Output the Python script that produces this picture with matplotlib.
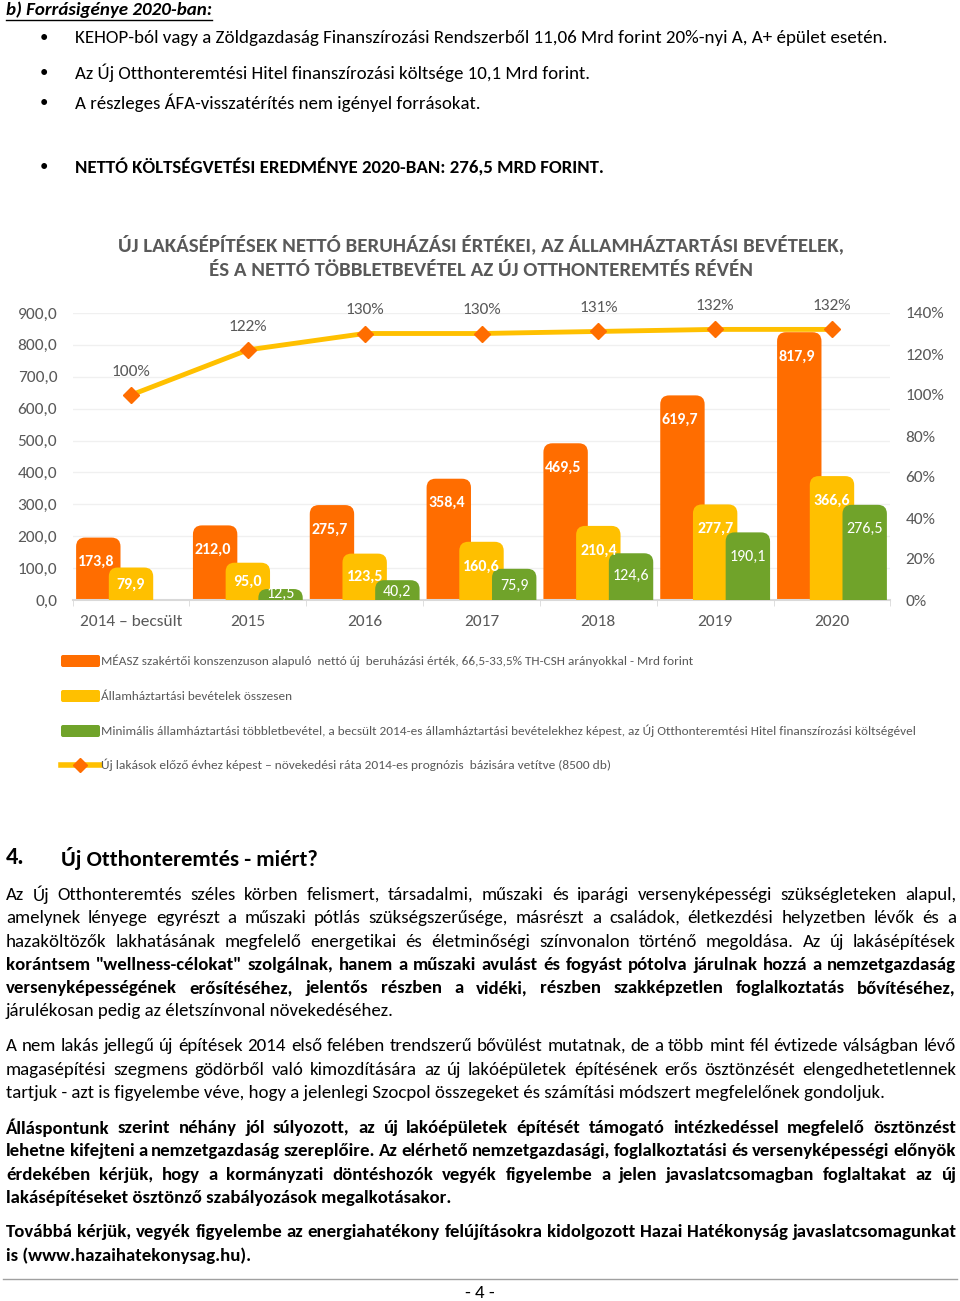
import matplotlib
matplotlib.use('Agg')
import matplotlib.pyplot as plt
import matplotlib.font_manager as fm
from matplotlib.patches import FancyBboxPatch
from matplotlib.lines import Line2D
from matplotlib.ticker import FuncFormatter, MultipleLocator

installed = {f.name for f in fm.fontManager.ttflist}
prefer = ['Carlito', 'Source Sans 3', 'Source Sans Pro', 'PT Sans', 'Open Sans']
font = [f for f in prefer if f in installed][0]
plt.rcParams['font.family'] = [font, 'DejaVu Sans']

# adatok
evek = ['2014 – becsült', '2015', '2016', '2017', '2018', '2019', '2020']
beruhazas = [173.8, 212.0, 275.7, 358.4, 469.5, 619.7, 817.9]
bevetel = [79.9, 95.0, 123.5, 160.6, 210.4, 277.7, 366.6]
tobblet = [None, 12.5, 40.2, 75.9, 124.6, 190.1, 276.5]
rata = [100, 122, 130, 130, 131, 132, 132]

sorozatok = [
    'MÉASZ szakértői konszenzuson alapuló  nettó új  beruházási érték, 66,5-33,5% TH-CSH arányokkal - Mrd forint',
    'Államháztartási bevételek összesen',
    'Minimális államháztartási többletbevétel, a becsült 2014-es államháztartási bevételekhez képest, az Új Otthonteremtési Hitel finanszírozási költségével',
    'Új lakások előző évhez képest – növekedési ráta 2014-es prognózis  bázisára vetítve (8500 db)',
]
cim = ['ÚJ LAKÁSÉPÍTÉSEK NETTÓ BERUHÁZÁSI ÉRTÉKEI, AZ ÁLLAMHÁZTARTÁSI BEVÉTELEK,',
       'ÉS A NETTÓ TÖBBLETBEVÉTEL AZ ÚJ OTTHONTEREMTÉS RÉVÉN']

ORANGE = '#FF6D00'
YELLOW = '#FFC000'
GREEN = '#70A32A'
GRAY = '#595959'

W, H = 960, 1301
fig = plt.figure(figsize=(9.6, 13.01), dpi=100)
bg = fig.add_axes([0, 0, 1, 1])
bg.set_xlim(0, W)
bg.set_ylim(H, 0)
bg.axis('off')
r = fig.canvas.get_renderer()


def width(t):
    return t.get_window_extent(r).width


def fit(t, w):
    t.set_fontsize(t.get_fontsize() * w / width(t))
    return t


def line(y, s, size, weight='normal', justify=True, x0=6, x1=956, **kw):
    if not justify:
        return bg.text(x0, y, s, fontsize=size, fontweight=weight, va='center', **kw)
    words = s.split(' ')
    arts = [bg.text(0, y, w, fontsize=size, fontweight=weight, va='center', **kw) for w in words]
    ws = [width(a) for a in arts]
    gap = (x1 - x0 - sum(ws)) / (len(words) - 1)
    x = x0
    for a, w in zip(arts, ws):
        a.set_x(x)
        x += w + gap


# --- top of the page ---
fit(bg.text(6, 10, 'b) Forrásigénye 2020-ban:', fontsize=13, fontweight='bold',
            style='italic', va='center'), 206)
bg.plot([6, 212], [20, 20], color='black', lw=1)
bullets = [(38, 'KEHOP-ból vagy a Zöldgazdaság Finanszírozási Rendszerből 11,06 Mrd forint 20%-nyi A, A+ épület esetén.', 809, 'normal'),
           (73, 'Az Új Otthonteremtési Hitel finanszírozási költsége 10,1 Mrd forint.', 515, 'normal'),
           (103, 'A részleges ÁFA-visszatérítés nem igényel forrásokat.', 404, 'normal'),
           (167, 'NETTÓ KÖLTSÉGVETÉSI EREDMÉNYE 2020-BAN: 276,5 MRD FORINT.', 529, 'bold')]
for y, s, w, fw in bullets:
    bg.text(44, y, '•', fontsize=12, va='center', ha='center')
    fit(bg.text(75, y, s, fontsize=13, fontweight=fw, va='center'), w)

# --- chart ---
fit(bg.text(481, 244, cim[0], fontsize=14, fontweight='bold', color=GRAY, ha='center', va='center'), 730)
fit(bg.text(481, 270, cim[1], fontsize=14, fontweight='bold', color=GRAY, ha='center', va='center'), 546)

ax = fig.add_axes([72.6 / W, (H - 600) / H, (890.4 - 72.6) / W, 287 / H])
ax.set_xlim(-0.5, 6.5)
ax.set_ylim(0, 900)
ax.yaxis.set_major_locator(MultipleLocator(100))
ax.yaxis.set_major_formatter(FuncFormatter(lambda v, p: f'{v:.1f}'.replace('.', ',')))
ax.grid(axis='y', color='#F0F0F0', lw=1)
ax.set_axisbelow(True)
for s in ['top', 'left', 'right']:
    ax.spines[s].set_visible(False)
ax.spines['bottom'].set_color('#D9D9D9')
ax.spines['bottom'].set_linewidth(1.5)
ax.set_xticks(range(len(evek)))
ax.set_xticklabels(evek)
ax.set_xticks([i - 0.5 for i in range(len(evek) + 1)], minor=True)
ax.tick_params(axis='x', which='major', length=0, labelsize=12.5, labelcolor=GRAY, pad=11)
ax.tick_params(axis='x', which='minor', length=4, color='#D9D9D9')
ax.tick_params(axis='y', length=0, labelsize=12.5, labelcolor=GRAY, pad=11)

px_x = ax.get_position().width * W / 7
px_y = ax.get_position().height * H / 900
asp = px_x / px_y
bw, off = 0.38, 0.28
rad = 9 / px_x
cap = 7 / px_y  # rounded cap drawn above the value, as in the original


def rbar(xc, v, color, z):
    p = FancyBboxPatch((xc - bw / 2, -100), bw, v + 100 + cap,
                       boxstyle=f'round,pad=0,rounding_size={rad}',
                       mutation_aspect=asp, fc=color, ec='none', zorder=z)
    ax.add_patch(p)


def lab_y(v):
    return v - 55 if v > 150 else max(v * 0.6, 19)


def fmt(v):
    return f'{v:.1f}'.replace('.', ',')


for i in range(len(evek)):
    rbar(i - off, beruhazas[i], ORANGE, 2)
    ax.text(i - off - 0.02, lab_y(beruhazas[i]), fmt(beruhazas[i]), ha='center', va='center',
            color='white', fontweight='bold', fontsize=11.5, zorder=6)
    rbar(i, bevetel[i], YELLOW, 3)
    ax.text(i, lab_y(bevetel[i]), fmt(bevetel[i]), ha='center', va='center',
            color='white', fontweight='bold', fontsize=11.5, zorder=6)
    if tobblet[i] is not None:
        rbar(i + off, tobblet[i], GREEN, 4)
        ax.text(i + off, lab_y(tobblet[i]), fmt(tobblet[i]), ha='center', va='center',
                color='white', fontsize=11.5, zorder=6)

ax2 = ax.twinx()
ax2.set_ylim(0, 140)
ax2.set_yticks(range(0, 141, 20))
ax2.yaxis.set_major_formatter(FuncFormatter(lambda v, p: f'{v:.0f}%'))
ax2.tick_params(axis='y', length=0, labelsize=12.5, labelcolor=GRAY, pad=11)
for s in ax2.spines.values():
    s.set_visible(False)
ax2.plot(range(len(evek)), rata, color=YELLOW, lw=3.5, marker='D', ms=8,
         mfc=ORANGE, mec=ORANGE, zorder=5, solid_capstyle='round')
for i, v in enumerate(rata):
    ax2.annotate(f'{v}%', (i, v), xytext=(0, 23), textcoords='offset pixels',
                 ha='center', va='center', color=GRAY, fontsize=12.5)

# legend
leg_y = [661, 696, 731, 765]
leg_w = [596, 192, 819, 508]
for k, (y, s, w) in enumerate(zip(leg_y, sorozatok, leg_w)):
    if k < 3:
        c = [ORANGE, YELLOW, GREEN][k]
        bg.add_patch(FancyBboxPatch((61, y - 6), 39, 12, boxstyle='round,pad=0,rounding_size=2',
                                    fc=c, ec='none'))
    else:
        bg.add_line(Line2D([61, 100], [y, y], color=YELLOW, lw=4))
        bg.plot([80], [y], marker='D', ms=7, color=ORANGE)
    fit(bg.text(101, y, s, fontsize=10, color=GRAY, va='center'), w)

# --- section 4 ---
fit(bg.text(6, 858, '4.', fontsize=16, fontweight='bold', va='center'), 19)
fit(bg.text(61, 858, 'Új Otthonteremtés - miért?', fontsize=16, fontweight='bold', va='center'), 258)

tmp = bg.text(0, 0, 'járulékosan pedig az életszínvonal növekedéséhez.', fontsize=12)
sn = fit(tmp, 389).get_fontsize()
tmp.remove()
tmp = bg.text(0, 0, 'lakásépítéseket ösztönző szabályozások megalkotásakor.', fontsize=12, fontweight='bold')
sb = fit(tmp, 443).get_fontsize()
tmp.remove()

body = [
    (895, 'Az Új Otthonteremtés széles körben felismert, társadalmi, műszaki és iparági versenyképességi szükségleteken alapul,', 'normal', True),
    (918, 'amelynek lényege egyrészt a műszaki pótlás szükségszerűsége, másrészt a családok, életkezdési helyzetben lévők és a', 'normal', True),
    (942, 'hazaköltözők lakhatásának megfelelő energetikai és életminőségi színvonalon történő megoldása. Az új lakásépítések', 'normal', True),
    (965, 'korántsem "wellness-célokat" szolgálnak, hanem a műszaki avulást és fogyást pótolva járulnak hozzá a nemzetgazdaság', 'bold', True),
    (988, 'versenyképességének erősítéséhez, jelentős részben a vidéki, részben szakképzetlen foglalkoztatás bővítéséhez,', 'bold', True),
    (1011, 'járulékosan pedig az életszínvonal növekedéséhez.', 'normal', False),
    (1046, 'A nem lakás jellegű új építések 2014 első felében trendszerű bővülést mutatnak, de a több mint fél évtizede válságban lévő', 'normal', True),
    (1070, 'magasépítési szegmens gödörből való kimozdítására az új lakóépületek építésének erős ösztönzését elengedhetetlennek', 'normal', True),
    (1093, 'tartjuk - azt is figyelembe véve, hogy a jelenlegi Szocpol összegeket és számítási módszert megfelelőnek gondoljuk.', 'normal', False),
    (1128, 'Álláspontunk szerint néhány jól súlyozott, az új lakóépületek építését támogató intézkedéssel megfelelő ösztönzést', 'bold', True),
    (1151, 'lehetne kifejteni a nemzetgazdaság szereplőire. Az elérhető nemzetgazdasági, foglalkoztatási és versenyképességi előnyök', 'bold', True),
    (1175, 'érdekében kérjük, hogy a kormányzati döntéshozók vegyék figyelembe a jelen javaslatcsomagban foglaltakat az új', 'bold', True),
    (1198, 'lakásépítéseket ösztönző szabályozások megalkotásakor.', 'bold', False),
    (1232, 'Továbbá kérjük, vegyék figyelembe az energiahatékony felújításokra kidolgozott Hazai Hatékonyság javaslatcsomagunkat', 'bold', True),
    (1256, 'is (www.hazaihatekonysag.hu).', 'bold', False),
]
for y, s, fw, j in body:
    line(y, s, sb if fw == 'bold' else sn, weight=fw, justify=j)

bg.plot([3, 957], [1279, 1279], color='#A0A0A0', lw=1)
bg.text(480, 1293, '- 4 -', fontsize=sn, ha='center', va='center')

fig.savefig('out.png', dpi=100)
